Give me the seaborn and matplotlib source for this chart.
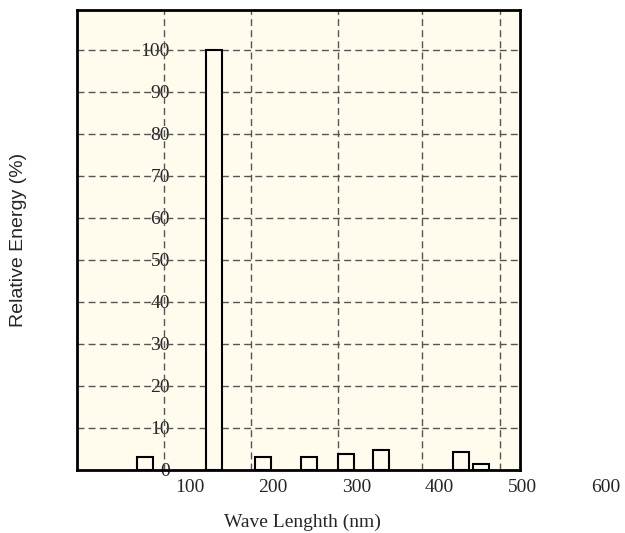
import matplotlib
matplotlib.use("Agg")
import matplotlib.pyplot as plt
import matplotlib.transforms as mtransforms
import seaborn as sns
import pandas as pd

# Data (x in nm on the chart's linear scale)
wavelengths = [46, 129, 188, 243, 288, 329, 426, 450]
energy = [3.1, 100, 3.0, 3.0, 3.8, 4.8, 4.2, 1.4]
grid_x = [68.7, 173.3, 277.9, 378.8, 472.6]
grid_y = [10, 20, 30, 40, 50, 60, 70, 80, 90, 100]
ytick_vals = [0, 10, 20, 30, 40, 50, 60, 70, 80, 90, 100]
xtick_vals = [100, 200, 300, 400, 500, 600]

df = pd.DataFrame({"wl": wavelengths, "energy": energy})

sns.set_theme(style="white")
plt.rcParams["font.family"] = ["Liberation Serif", "DejaVu Serif"]

fig = plt.figure(figsize=(6.25, 5.33), dpi=100)
ax = fig.add_axes([77 / 625, 63 / 533, 443 / 625, 460 / 533])
ax.set_facecolor("#fffcee")

for gx in grid_x:
    ax.axvline(gx, color="#555555", lw=1.0, ls=(0, (5, 3)), zorder=1)
for gy in grid_y:
    ax.axhline(gy, color="#555555", lw=1.0, ls=(0, (5, 3)), zorder=1)

sns.barplot(data=df, x="wl", y="energy", native_scale=True, width=0.8,
            facecolor="none", edgecolor="black", linewidth=1.5, ax=ax,
            errorbar=None, zorder=3)
for p in ax.patches:
    p.set_facecolor("#fffcee")
    p.set_zorder(3)

ax.set_xlim(-35.6, 496.5)
ax.set_ylim(0, 109.5)

ax.set_yticks(ytick_vals)
ax.set_yticklabels([str(v) for v in ytick_vals], fontsize=14)
ax.tick_params(axis="y", length=0, pad=-67)
for lbl in ax.get_yticklabels():
    lbl.set_zorder(5)
ax.set_xticks([])

trans = mtransforms.blended_transform_factory(ax.transData, ax.transAxes)
for v in xtick_vals:
    ax.text(v, -0.02, str(v), transform=trans, ha="center", va="top",
            fontsize=14, clip_on=False)

for s in ax.spines.values():
    s.set_color("black")
    s.set_linewidth(2)
    s.set_visible(True)

ax.set_xlabel("Wave Lenghth (nm)", fontsize=14)
ax.xaxis.set_label_coords(0.51, -0.095)
ax.set_ylabel("Relative Energy (%)", fontsize=14,
              family=["Liberation Sans", "DejaVu Sans"])
ax.yaxis.set_label_coords(-0.112, 0.5)

fig.savefig("out.png", dpi=100)
